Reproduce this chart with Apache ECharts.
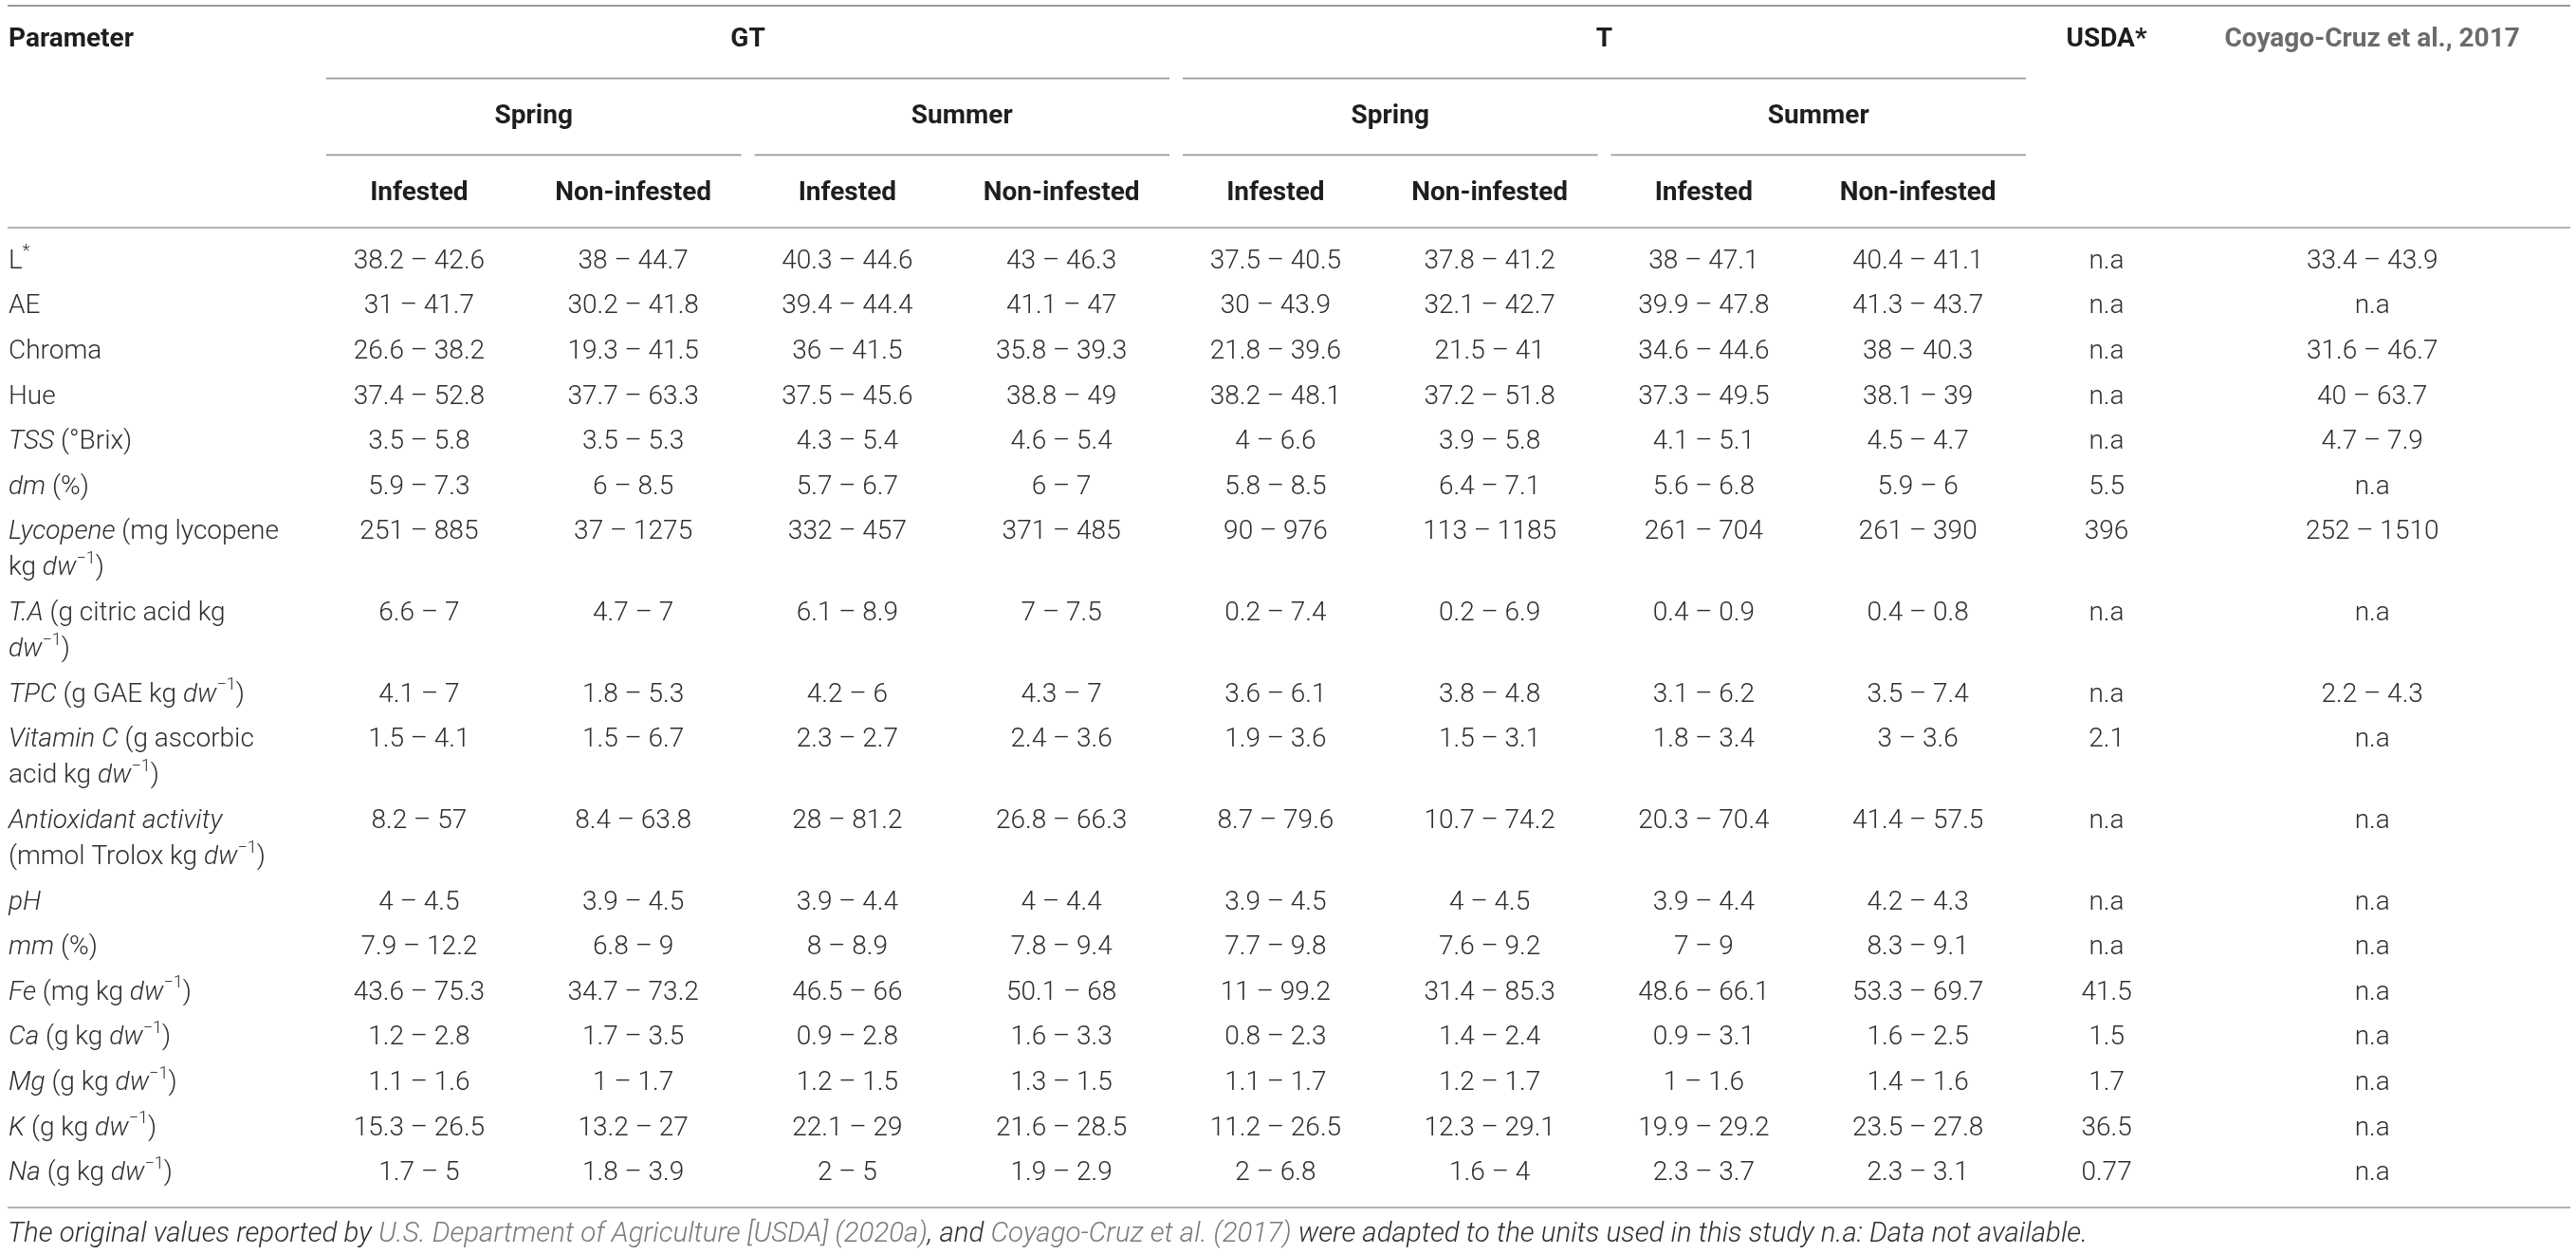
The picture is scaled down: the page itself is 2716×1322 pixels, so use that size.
<!DOCTYPE html>
<html>
<head>
<meta charset="utf-8">
<script src="https://cdn.jsdelivr.net/npm/echarts@6/dist/echarts.min.js"></script>
<style>
html,body{margin:0;padding:0;background:#fff;}
#chartmain{width:2716px;height:1322px;}
</style>
</head>
<body>
<div id="chartmain"></div>
<script>
//表头
var firstHeader = 'Parameter';
var groups = ['GT', 'T'];
var seasons = ['Spring', 'Summer'];
var conditions = ['Infested', 'Non-infested'];
var refColumns = ['USDA*', 'Coyago-Cruz et al., 2017'];

//参数 (rich text: i = italic, s = superscript)
var parameters = [
    'L{s|*}',
    'AE',
    'Chroma',
    'Hue',
    '{i|TSS} (°Brix)',
    '{i|dm} (%)',
    '{i|Lycopene} (mg lycopene\nkg {i|dw}{s|−1})',
    '{i|T.A} (g citric acid kg\n{i|dw}{s|−1})',
    '{i|TPC} (g GAE kg {i|dw}{s|−1})',
    '{i|Vitamin C} (g ascorbic\nacid kg {i|dw}{s|−1})',
    '{i|Antioxidant activity}\n(mmol Trolox kg {i|dw}{s|−1})',
    '{i|pH}',
    '{i|mm} (%)',
    '{i|Fe} (mg kg {i|dw}{s|−1})',
    '{i|Ca} (g kg {i|dw}{s|−1})',
    '{i|Mg} (g kg {i|dw}{s|−1})',
    '{i|K} (g kg {i|dw}{s|−1})',
    '{i|Na} (g kg {i|dw}{s|−1})'
];

//数据列
var gtSpringInf = ['38.2 – 42.6','31 – 41.7','26.6 – 38.2','37.4 – 52.8','3.5 – 5.8','5.9 – 7.3','251 – 885','6.6 – 7','4.1 – 7','1.5 – 4.1','8.2 – 57','4 – 4.5','7.9 – 12.2','43.6 – 75.3','1.2 – 2.8','1.1 – 1.6','15.3 – 26.5','1.7 – 5'];
var gtSpringNon = ['38 – 44.7','30.2 – 41.8','19.3 – 41.5','37.7 – 63.3','3.5 – 5.3','6 – 8.5','37 – 1275','4.7 – 7','1.8 – 5.3','1.5 – 6.7','8.4 – 63.8','3.9 – 4.5','6.8 – 9','34.7 – 73.2','1.7 – 3.5','1 – 1.7','13.2 – 27','1.8 – 3.9'];
var gtSummerInf = ['40.3 – 44.6','39.4 – 44.4','36 – 41.5','37.5 – 45.6','4.3 – 5.4','5.7 – 6.7','332 – 457','6.1 – 8.9','4.2 – 6','2.3 – 2.7','28 – 81.2','3.9 – 4.4','8 – 8.9','46.5 – 66','0.9 – 2.8','1.2 – 1.5','22.1 – 29','2 – 5'];
var gtSummerNon = ['43 – 46.3','41.1 – 47','35.8 – 39.3','38.8 – 49','4.6 – 5.4','6 – 7','371 – 485','7 – 7.5','4.3 – 7','2.4 – 3.6','26.8 – 66.3','4 – 4.4','7.8 – 9.4','50.1 – 68','1.6 – 3.3','1.3 – 1.5','21.6 – 28.5','1.9 – 2.9'];
var tSpringInf = ['37.5 – 40.5','30 – 43.9','21.8 – 39.6','38.2 – 48.1','4 – 6.6','5.8 – 8.5','90 – 976','0.2 – 7.4','3.6 – 6.1','1.9 – 3.6','8.7 – 79.6','3.9 – 4.5','7.7 – 9.8','11 – 99.2','0.8 – 2.3','1.1 – 1.7','11.2 – 26.5','2 – 6.8'];
var tSpringNon = ['37.8 – 41.2','32.1 – 42.7','21.5 – 41','37.2 – 51.8','3.9 – 5.8','6.4 – 7.1','113 – 1185','0.2 – 6.9','3.8 – 4.8','1.5 – 3.1','10.7 – 74.2','4 – 4.5','7.6 – 9.2','31.4 – 85.3','1.4 – 2.4','1.2 – 1.7','12.3 – 29.1','1.6 – 4'];
var tSummerInf = ['38 – 47.1','39.9 – 47.8','34.6 – 44.6','37.3 – 49.5','4.1 – 5.1','5.6 – 6.8','261 – 704','0.4 – 0.9','3.1 – 6.2','1.8 – 3.4','20.3 – 70.4','3.9 – 4.4','7 – 9','48.6 – 66.1','0.9 – 3.1','1 – 1.6','19.9 – 29.2','2.3 – 3.7'];
var tSummerNon = ['40.4 – 41.1','41.3 – 43.7','38 – 40.3','38.1 – 39','4.5 – 4.7','5.9 – 6','261 – 390','0.4 – 0.8','3.5 – 7.4','3 – 3.6','41.4 – 57.5','4.2 – 4.3','8.3 – 9.1','53.3 – 69.7','1.6 – 2.5','1.4 – 1.6','23.5 – 27.8','2.3 – 3.1'];
var usda = ['n.a','n.a','n.a','n.a','n.a','5.5','396','n.a','n.a','2.1','n.a','n.a','n.a','41.5','1.5','1.7','36.5','0.77'];
var coyago = ['33.4 – 43.9','n.a','31.6 – 46.7','40 – 63.7','4.7 – 7.9','n.a','252 – 1510','n.a','2.2 – 4.3','n.a','n.a','n.a','n.a','n.a','n.a','n.a','n.a','n.a'];

var valueColumns = [gtSpringInf, gtSpringNon, gtSummerInf, gtSummerNon,
    tSpringInf, tSpringNon, tSummerInf, tSummerNon, usda, coyago];

//脚注
var footnoteParts = [
    ['n', 'The original values reported by '],
    ['l', 'U.S. Department of Agriculture [USDA] (2020a)'],
    ['n', ', and '],
    ['l', 'Coyago-Cruz et al. (2017)'],
    ['n', ' were adapted to the units used in this study n.a: Data not available.']
];

//布局 (列宽, 单位 = 一列数据宽)
var colUnits = [1.422, 1, 1, 1, 1, 1, 1, 1, 1, 0.762, 1.72];
var xMax = 11.969;
var lineStep = 0.8;   //同一单元格内换行
var colLeft = [];
(function () {
    var acc = 0;
    colUnits.forEach(function (w) { colLeft.push(acc); acc += w; });
})();
function colCenter(c) { return colLeft[c] + colUnits[c] / 2; }

var rowPos = [];
(function () {
    var acc = 0;
    parameters.forEach(function (p) {
        rowPos.push(acc);
        acc += p.indexOf('\n') >= 0 ? 1 + lineStep : 1;
    });
})();

var FONT = 'Roboto, "Liberation Sans", sans-serif';
var TEXT_COLOR = '#2e2e2e';
var HEAD_COLOR = '#1e1e1e';
var RULE_COLOR = '#9a9a9a';

function lightStyle(extra) {
    var s = {fontFamily: FONT, fontWeight: 300, fontSize: 28, fill: TEXT_COLOR};
    for (var k in extra) s[k] = extra[k];
    return s;
}

//表头单元格
var headerCells = [];
headerCells.push({x0: colLeft[0], x1: colLeft[1], row: 0, text: firstHeader, left: true});
groups.forEach(function (g, gi) {
    var c0 = 1 + gi * 4;
    headerCells.push({x0: colLeft[c0], x1: colLeft[c0 + 4], row: 0, text: g, rule: true});
    seasons.forEach(function (s, si) {
        var c1 = c0 + si * 2;
        headerCells.push({x0: colLeft[c1], x1: colLeft[c1 + 2], row: 1, text: s, rule: true});
        conditions.forEach(function (k, ki) {
            var c2 = c1 + ki;
            headerCells.push({x0: colLeft[c2], x1: colLeft[c2] + colUnits[c2], row: 2, text: k});
        });
    });
});
refColumns.forEach(function (t, i) {
    var c = 9 + i;
    headerCells.push({x0: colLeft[c], x1: colLeft[c] + colUnits[c], row: 0, text: t, grey: i === 1});
});

//表体单元格
var bodyData = [];
parameters.forEach(function (p, r) {
    bodyData.push([colLeft[0], rowPos[r], r, 0]);
    valueColumns.forEach(function (col, ci) {
        bodyData.push([colCenter(ci + 1), rowPos[r], r, ci + 1]);
    });
});

var bodyMin = -0.75;
var bodyMax = rowPos[rowPos.length - 1] + 0.75;

function renderHeader(params, api) {
    var cell = headerCells[params.dataIndex];
    var a = api.coord([api.value(0), api.value(2)]);
    var b = api.coord([api.value(1), api.value(2)]);
    var children = [];
    var tx, align = 'center';
    if (cell.left) { tx = a[0] + 1; align = 'left'; }
    else if (cell.rule) { tx = ((a[0] + 15) + (b[0] + 1)) / 2; }
    else { tx = (a[0] + b[0]) / 2; }
    children.push({
        type: 'text', x: tx, y: a[1],
        style: {
            legacy: false, text: cell.text, align: align, verticalAlign: 'middle',
            textAlign: align, textVerticalAlign: 'middle',
            fontFamily: FONT, fontWeight: 700, fontSize: 28,
            fill: cell.grey ? '#6b6b6b' : HEAD_COLOR
        }
    });
    if (cell.rule) {
        var ry = api.coord([api.value(0), api.value(2) + 0.5])[1];
        children.push({
            type: 'line',
            shape: {x1: a[0] + 15, y1: ry, x2: b[0] + 1, y2: ry},
            style: {stroke: RULE_COLOR, lineWidth: 1.6}
        });
    }
    return {type: 'group', children: children};
}

function renderBody(params, api) {
    var r = api.value(2), c = api.value(3);
    var pt = api.coord([api.value(0), api.value(1)]);
    var lh = api.size([0, lineStep])[1];
    if (c === 0) {
        return {
            type: 'text', x: pt[0] + 1, y: pt[1] - lh / 2,
            style: lightStyle({
                legacy: false, text: parameters[r], align: 'left', verticalAlign: 'top',
                textAlign: 'left', textVerticalAlign: 'top', lineHeight: lh,
                rich: {
                    i: {fontFamily: FONT, fontWeight: 300, fontSize: 28, fontStyle: 'italic', fill: TEXT_COLOR, lineHeight: lh},
                    s: {fontFamily: FONT, fontWeight: 300, fontSize: 18, fill: TEXT_COLOR, verticalAlign: 'top'}
                }
            })
        };
    }
    return {
        type: 'text', x: pt[0], y: pt[1],
        style: lightStyle({
            legacy: false, text: valueColumns[c - 1][r], align: 'center', verticalAlign: 'middle',
            textAlign: 'center', textVerticalAlign: 'middle'
        })
    };
}

function renderRule(params, api) {
    var a = api.coord([api.value(0), api.value(2)]);
    var b = api.coord([api.value(1), api.value(2)]);
    return {
        type: 'line',
        shape: {x1: a[0], y1: a[1], x2: b[0], y2: b[1]},
        style: {stroke: RULE_COLOR, lineWidth: api.value(3)}
    };
}

var footRich = {
    n: {fontFamily: FONT, fontWeight: 300, fontStyle: 'italic', fontSize: 29.5, color: TEXT_COLOR, lineHeight: 32},
    l: {fontFamily: FONT, fontWeight: 300, fontStyle: 'italic', fontSize: 29.5, color: '#7a7a7a', lineHeight: 32}
};

var option = {
    animation: false,
    backgroundColor: '#fff',
    title: {
        text: footnoteParts.map(function (p) { return '{' + p[0] + '|' + p[1] + '}'; }).join(''),
        left: 8, top: 1286, padding: 0,
        textStyle: {rich: footRich}
    },
    grid: [
        {left: 8, right: 6, top: 6, height: 234},
        {left: 8, right: 6, top: 240, height: 1033}
    ],
    xAxis: [
        {type: 'value', gridIndex: 0, min: 0, max: xMax, show: false},
        {type: 'value', gridIndex: 1, min: 0, max: xMax, show: false}
    ],
    yAxis: [
        {type: 'value', gridIndex: 0, min: -0.45, max: 2.45, inverse: true, show: false},
        {type: 'value', gridIndex: 1, min: bodyMin, max: bodyMax, inverse: true, show: false}
    ],
    series: [
        {
            type: 'custom', name: 'header', xAxisIndex: 0, yAxisIndex: 0,
            renderItem: renderHeader,
            encode: {x: [0, 1], y: 2},
            data: headerCells.map(function (h) { return [h.x0, h.x1, h.row]; }),
            silent: true
        },
        {
            type: 'custom', name: 'headerRules', xAxisIndex: 0, yAxisIndex: 0,
            renderItem: renderRule,
            encode: {x: [0, 1], y: 2},
            data: [[0, xMax, -0.45, 2], [0, xMax, 2.45, 1.6]],
            silent: true
        },
        {
            type: 'custom', name: 'body', xAxisIndex: 1, yAxisIndex: 1,
            renderItem: renderBody,
            encode: {x: 0, y: 1},
            data: bodyData,
            silent: true
        },
        {
            type: 'custom', name: 'bodyRules', xAxisIndex: 1, yAxisIndex: 1,
            renderItem: renderRule,
            encode: {x: [0, 1], y: 2},
            data: [[0, xMax, bodyMax, 1.6]],
            silent: true
        }
    ]
};

var myChart = echarts.init(document.getElementById('chartmain'));
myChart.setOption(option);
</script>
</body>
</html>
